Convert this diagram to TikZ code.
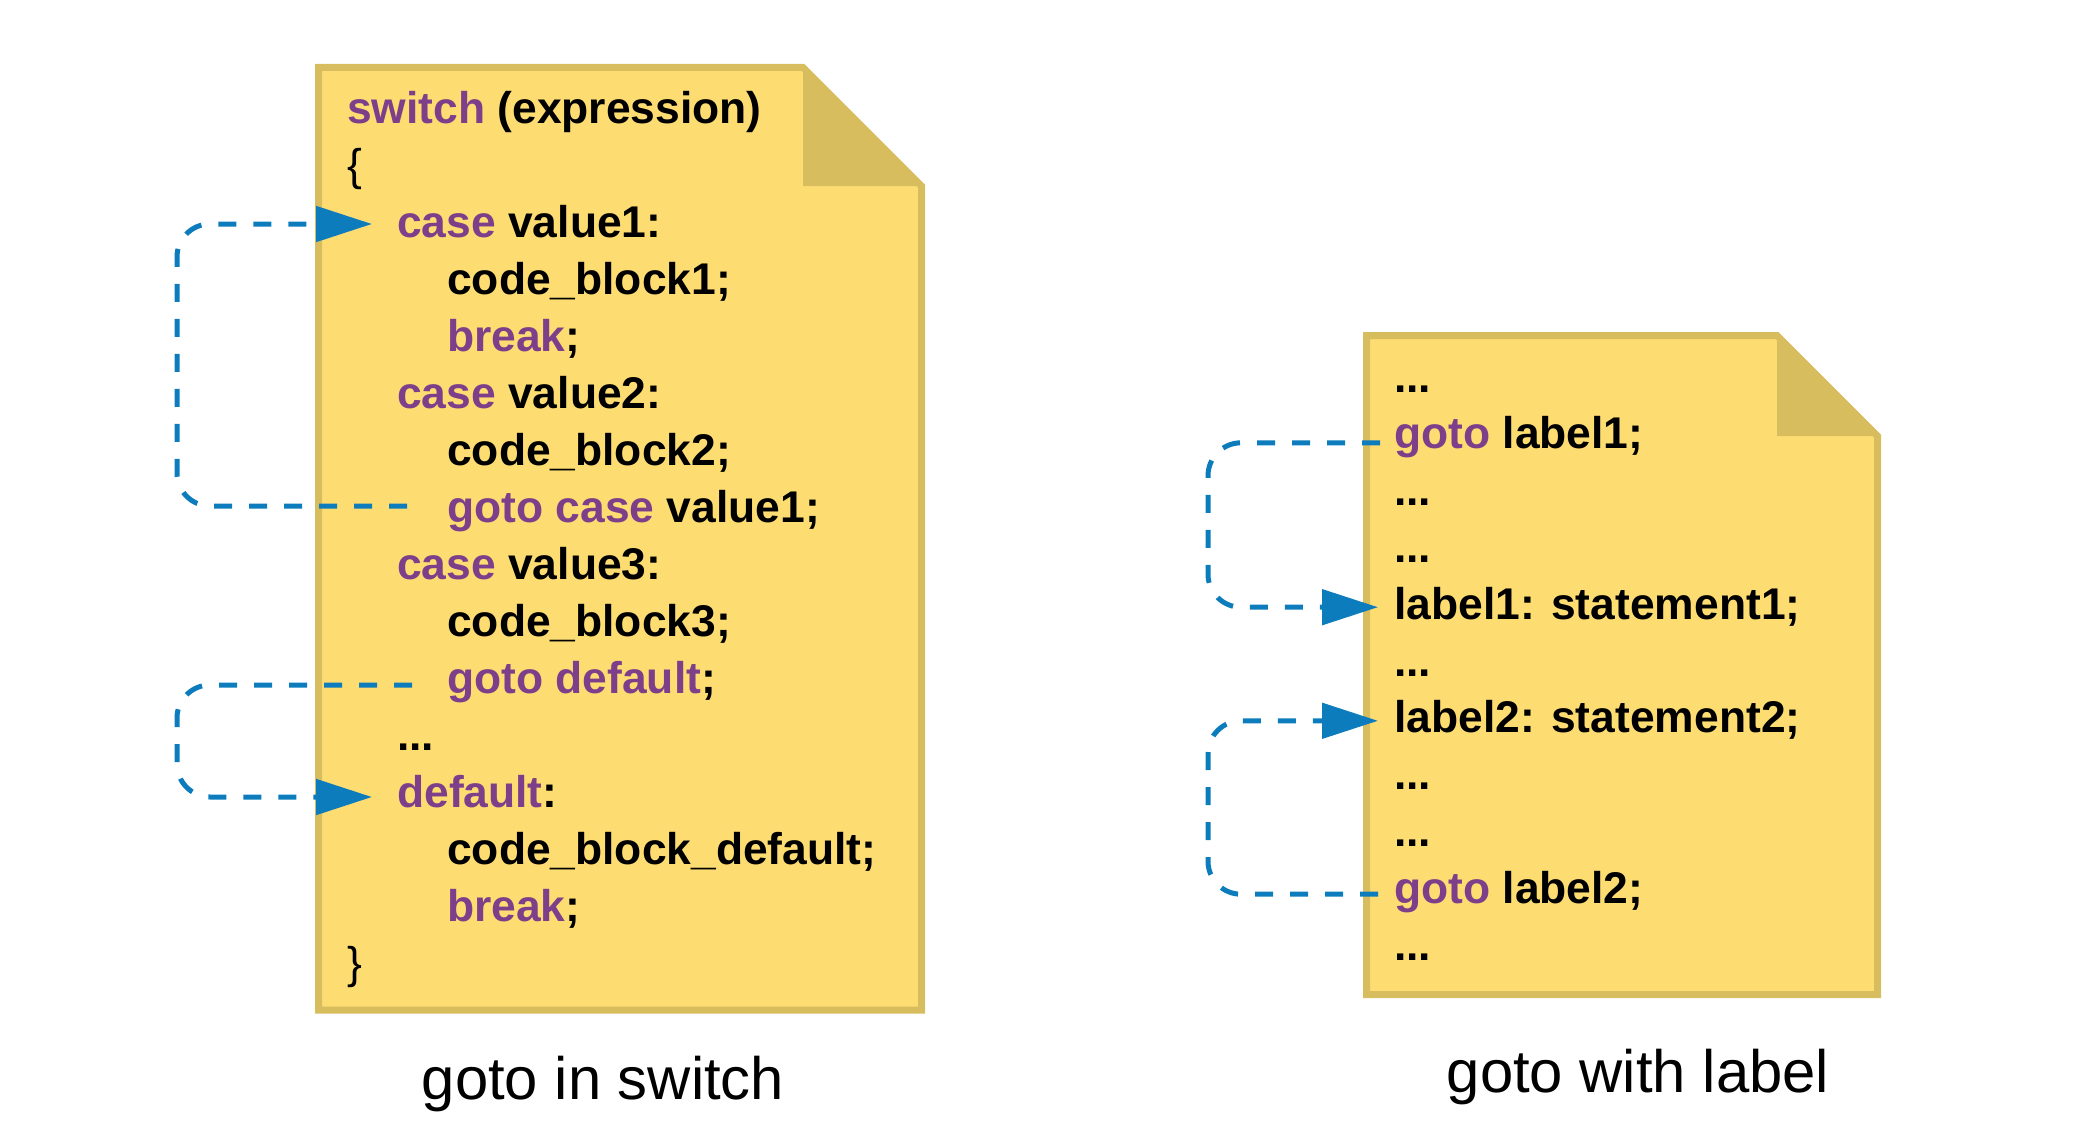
\documentclass[tikz,border=0pt]{standalone}
\usepackage{fontspec}
\setmainfont{Liberation Sans}
\usetikzlibrary{arrows.meta}
\definecolor{docfill}{RGB}{253,221,114}
\definecolor{docedge}{RGB}{216,189,94}
\definecolor{kwpurple}{RGB}{126,63,138}
\definecolor{gotoblue}{RGB}{13,124,189}
\newcommand\kw[1]{\textcolor{kwpurple}{#1}}
\begin{document}
\begin{tikzpicture}[x=1pt,y=-1pt,
  codeline/.style={anchor=base west, inner sep=0pt, font=\fontsize{44.4}{50}\selectfont\bfseries},
  capline/.style={anchor=base, inner sep=0pt, font=\fontsize{59.8}{66}\selectfont},
  docbody/.style={fill=docfill},
  docline/.style={draw=docedge, line width=7pt, line join=miter},
  foldshape/.style={fill=docedge},
  jump/.style={draw=gotoblue, line width=5pt, dash pattern=on 18pt off 17pt,
    rounded corners=33pt, -{Triangle[length=56pt,width=35pt]}}
]
\useasboundingbox (0,0) rectangle (2080,1148);

% ---- left document ----
\fill[docbody] (318.5,67.5) -- (803,67.5) -- (921.5,186) -- (921.5,1010) -- (318.5,1010) -- cycle;
\fill[foldshape] (803,67.5) -- (921.5,186) -- (803,186) -- cycle;
\draw[docline] (318.5,67.5) -- (803,67.5) -- (921.5,186) -- (921.5,1010) -- (318.5,1010) -- cycle;

\node[codeline] (sw)  at (347,123) {\kw{switch} (expression)};
\node[codeline] (lb)  at (347,180) {\mdseries\{};
\node[codeline] (c1)  at (397,237) {\kw{case} value1:};
\node[codeline] (cb1) at (447,294) {code\_block1;};
\node[codeline] (br1) at (447,351) {\kw{break};};
\node[codeline] (c2)  at (397,408) {\kw{case} value2:};
\node[codeline] (cb2) at (447,465) {code\_block2;};
\node[codeline] (g1)  at (447,522) {\kw{goto case} value1;};
\node[codeline] (c3)  at (397,579) {\kw{case} value3:};
\node[codeline] (cb3) at (447,636) {code\_block3;};
\node[codeline] (g2)  at (447,693) {\kw{goto default};};
\node[codeline] (dt)  at (397,750) {...};
\node[codeline] (df)  at (397,807) {\kw{default}:};
\node[codeline] (cbd) at (447,864) {code\_block\_default;};
\node[codeline] (br2) at (447,921) {\kw{break};};
\node[codeline] (rb)  at (347,978) {\mdseries\}};

\node[capline] (cap1) at (603,1099) {goto in switch};

% ---- right document ----
\fill[docbody] (1366.5,335.5) -- (1777,335.5) -- (1877.5,436) -- (1877.5,994.5) -- (1366.5,994.5) -- cycle;
\fill[foldshape] (1777,335.5) -- (1877.5,436) -- (1777,436) -- cycle;
\draw[docline] (1366.5,335.5) -- (1777,335.5) -- (1877.5,436) -- (1877.5,994.5) -- (1366.5,994.5) -- cycle;

\node[codeline] (r0)  at (1394,392.0) {...};
\node[codeline] (rg1) at (1394,448.8) {\kw{goto} label1;};
\node[codeline] (r2)  at (1394,505.6) {...};
\node[codeline] (r3)  at (1394,562.4) {...};
\node[codeline] (rl1) at (1394,619.2) {label1: statement1;};
\node[codeline] (r5)  at (1394,676.0) {...};
\node[codeline] (rl2) at (1394,732.8) {label2: statement2;};
\node[codeline] (r7)  at (1394,789.6) {...};
\node[codeline] (r8)  at (1394,846.4) {...};
\node[codeline] (rg2) at (1394,903.2) {\kw{goto} label2;};
\node[codeline] (r10) at (1394,960.0) {...};

\node[capline] (cap2) at (1638,1092) {goto with label};

% ---- jumps ----
\coordinate (xl) at (177,0);
\coordinate (xr) at (1208,0);

\coordinate (a1s) at ([xshift=-40pt,yshift=16pt]g1.base west);
\coordinate (a1e) at ([xshift=-25pt,yshift=13pt]c1.base west);
\coordinate (a2s) at ([xshift=-35pt,yshift=8pt]g2.base west);
\coordinate (a2e) at ([xshift=-25pt,yshift=10pt]df.base west);
\coordinate (a3s) at ([xshift=-14pt,yshift=6pt]rg1.base west);
\coordinate (a3e) at ([xshift=-16pt,yshift=12pt]rl1.base west);
\coordinate (a4s) at ([xshift=-16pt,yshift=9pt]rg2.base west);
\coordinate (a4e) at ([xshift=-16pt,yshift=12pt]rl2.base west);

\draw[jump] (a1s) -- (a1s -| xl) -- (a1e -| xl) -- (a1e);
\draw[jump] (a2s) -- (a2s -| xl) -- (a2e -| xl) -- (a2e);
\draw[jump] (a3s) -- (a3s -| xr) -- (a3e -| xr) -- (a3e);
\draw[jump] (a4s) -- (a4s -| xr) -- (a4e -| xr) -- (a4e);
\end{tikzpicture}
\end{document}
